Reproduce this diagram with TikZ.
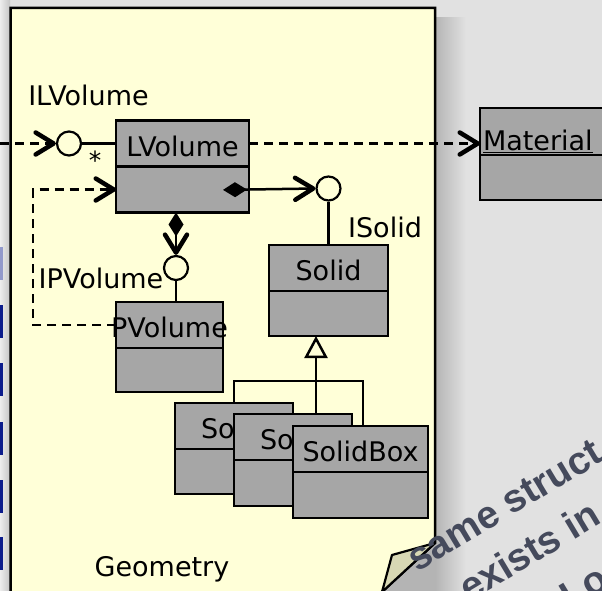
\documentclass[tikz,border=0pt]{standalone}
\usepackage{fontspec}
\setmainfont{DejaVu Sans}
\newfontfamily\notefont{Liberation Sans}
\usetikzlibrary{arrows.meta, positioning}

\definecolor{bggray}{HTML}{E1E1E1}
\definecolor{panelyellow}{HTML}{FFFFD8}
\definecolor{foldgreen}{HTML}{D8D8B4}
\definecolor{boxgray}{HTML}{A6A6A6}
\definecolor{shadowgray}{HTML}{B4B4B4}
\definecolor{stripblue}{HTML}{0C1C8C}
\definecolor{notegray}{HTML}{454A5C}

\newcommand{\ctext}[1]{\makebox[0pt]{#1}}

\begin{document}
\begin{tikzpicture}[
        x=1pt, y=-1pt,
        font=\fontsize{27}{32}\selectfont,
        hdr/.style={draw, fill=boxgray, line width=2.5pt, outer sep=0pt, inner sep=0pt, minimum height=46pt, text height=25pt, text depth=0pt},
        lolli/.style={draw, circle, fill=panelyellow, line width=2.2pt, minimum size=24pt, inner sep=0pt},
        lbl/.style={anchor=base, inner sep=0pt},
        note/.style={anchor=base west, rotate=31, inner sep=0pt, text=notegray, font=\notefont\bfseries\fontsize{39}{40}\selectfont},
        link/.style={line width=2.5pt},
        barb/.tip={Straight Barb[length=18pt, width=22pt, line width=4.5pt 0, round]},
        dep/.style={line width=2.2pt, dash pattern=on 9pt off 6pt, -barb},
        comp/.style={link, {Diamond[length=24pt, width=15pt]}-barb},
        gen/.style={link, -{Triangle[open, length=22pt, width=23pt, line width=2.5pt 0]}}
        ]
        \useasboundingbox (0,0) rectangle (602,591);
        \clip (0,0) rectangle (602,591);
        \fill[bggray] (0,0) rectangle (602,591);
        % left strip
        \shade[left color=bggray!60!white, right color=gray!45] (0,0) rectangle (10,591);
        \fill[stripblue!45] (0,247) rectangle (3,280);
        \foreach \y in {305,363,422,480,537}
            \fill[stripblue] (0,\y) rectangle (3,\y+33);
        % shadow and note panel
        \shade[left color=shadowgray, right color=bggray] (435,18) rectangle (466,591);
        \fill[shadowgray] (378,591) -- (435,540) -- (435,591) -- cycle;
        \filldraw[fill=panelyellow, line width=2.5pt] (10.5,600) -- (10.5,8) -- (435,8) -- (435,543) -- (373,600);
        \filldraw[fill=foldgreen, line width=2.2pt, line join=round] (435,543) -- (392,555) -- (382,592) -- cycle;

        % classes
        \node[hdr, minimum width=133pt] (lvh) at (182.5,143.5) {\ctext{LVolume}};
        \node[hdr, minimum width=133pt, below=0pt of lvh] (lvb) {};
        \node[hdr, minimum width=107pt] (pvh) at (169.5,325) {\ctext{PVolume}};
        \node[hdr, minimum width=107pt, minimum height=44pt, below=0pt of pvh] (pvb) {};
        \node[hdr, minimum width=119pt] (solh) at (328.5,268) {\ctext{Solid}};
        \node[hdr, minimum width=119pt, minimum height=45pt, below=0pt of solh] (solb) {};
        \node[hdr, minimum width=118pt] (so1h) at (234,426) {\ctext{So\phantom{lid}}};
        \node[hdr, minimum width=118pt, minimum height=45pt, below=0pt of so1h] (so1b) {};
        \node[hdr, minimum width=118pt] (so2h) at (293,437) {\ctext{So\phantom{lid}}};
        \node[hdr, minimum width=118pt, below=0pt of so2h] (so2b) {};
        \node[hdr, minimum width=135pt] (sbh) at (360.5,449) {\ctext{SolidBox}};
        \node[hdr, minimum width=135pt, below=0pt of sbh] (sbb) {};
        \node[hdr, minimum width=140pt, minimum height=47pt, text width=134pt, align=left, text height=37pt] (math) at (550,131.5) {\underline{Material}};
        \node[hdr, minimum width=140pt, minimum height=45pt, below=0pt of math] (matb) {};

        % interfaces
        \node[lolli] (ilv) at (69,143.5) {};
        \node[lolli] (isol) at (328.5,188.5) {};
        \node[lolli] (ipv) at (176,268) {};
        \coordinate (ilvin) at (0,143.5);

        \draw[dep] (ilvin) -- (ilv.west);
        \draw[link] (ilv.east) -- (lvh.west);
        \draw[dep] (lvh.east) -- (lvh.east -| math.west);
        \draw[dep] (pvh.west) -- ++(-83,0) |- (lvb.west);
        \draw[comp, shorten <=-26pt] (lvb.east) -- (isol.west);
        \draw[link] (isol.south) -- (solh.north);
        \draw[comp] (ipv |- lvb.south) -- (ipv.north);
        \draw[link] (ipv.south) -- (ipv.south |- pvh.north);
        \draw[gen] ([xshift=23pt]so2h.north) -- ([xshift=23pt]so2h.north |- solb.south);
        \draw[link] (so1h.north) -- ++(0,-22) -| ([xshift=2.5pt]sbh.north);

        % labels
        \node[lbl] (ilvlbl) at (88.5,106) {ILVolume};
        \node[lbl] (ipvlbl) at (101,288) {IPVolume};
        \node[lbl] (isollbl) at (385,237) {ISolid};
        \node[lbl, font=\fontsize{25}{25}\selectfont] (star) at (95,169) {*};
        \node[lbl] (geomlbl) at (162,576) {Geometry};

        % note on the slide
        \node[note] (note1) at (417,573) {same struct};
        \node[note] (note2) at (469,603) {exists in};
        \node[note] (note3) at (570,611) {Lo};
    \end{tikzpicture}
\end{document}
